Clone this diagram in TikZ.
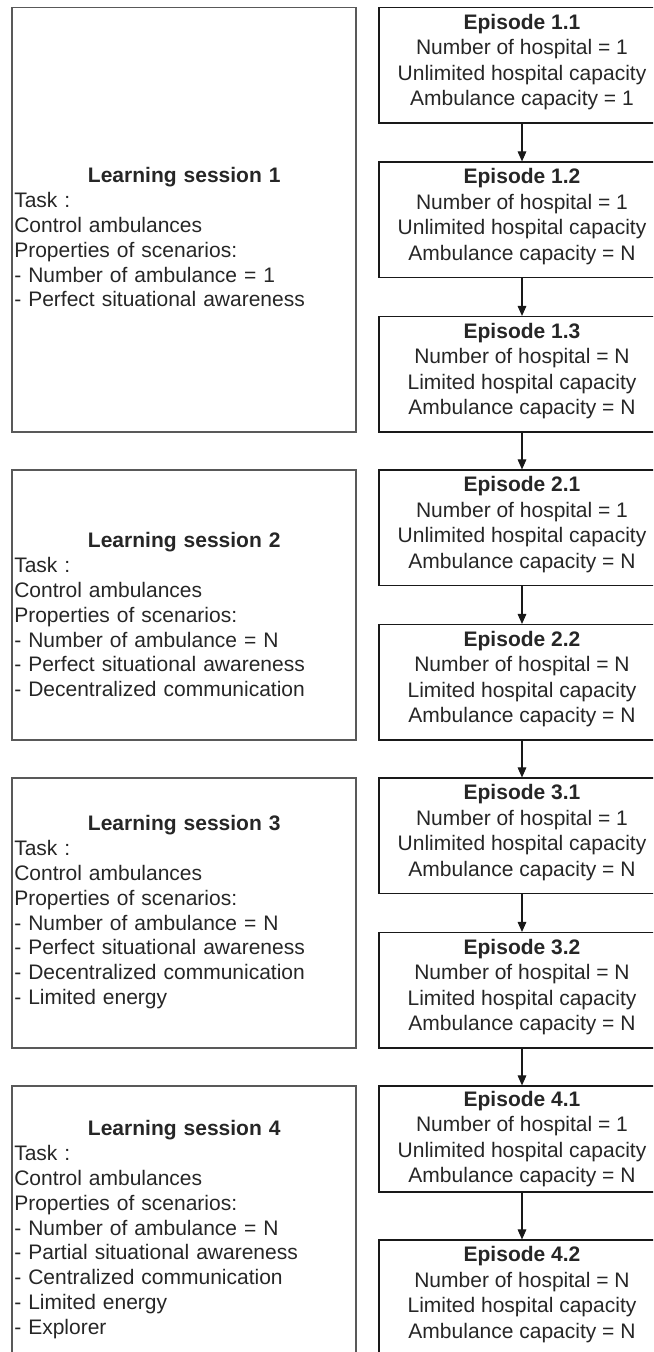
\documentclass[tikz,border=0pt]{standalone}
\usepackage{fontspec}
\setmainfont{Liberation Sans}
\usetikzlibrary{arrows.meta}
\newcommand{\sesshead}[1]{{\centering\bfseries #1\par}}
\begin{document}
\begin{tikzpicture}[x=0.75pt,y=-0.75pt,
	sessbox/.style={draw=black!65,line width=1.4pt,inner sep=0pt,minimum width=258pt},
	epbox/.style={draw=black!90,line width=0.9pt,inner sep=0pt,minimum width=214.5pt,minimum height=86.6pt},
	eptext/.style={align=center,inner sep=0pt,text=black!85,font=\fontsize{15.75}{19.1}\selectfont},
	sesstext/.style={align=left,inner sep=0pt,text width=255pt,anchor=north west,text=black!85,font=\fontsize{15.75}{18.6}\selectfont},
	flow/.style={-{Triangle[length=7.5pt,width=6.5pt]},line width=0.8pt,black!90}]
			\useasboundingbox (0,0) rectangle (653,1352);
			\clip (0,0) rectangle (653,1352);
			% learning sessions
			\node[sessbox,minimum height=318.4pt] (s1) at (184,219.75) {};
			\node[sessbox,minimum height=202.5pt] (s2) at (184,605) {};
			\node[sessbox,minimum height=202.5pt] (s3) at (184,913) {};
			\node[sessbox,minimum height=214.5pt] (s4) at (184,1229) {};
			\node[sesstext] (s1t) at (14,167.5) {\sesshead{Learning session 1}Task :\\Control ambulances\\Properties of scenarios:\\- Number of ambulance = 1\\- Perfect situational awareness};
			\node[sesstext] (s2t) at (14,532.5) {\sesshead{Learning session 2}Task :\\Control ambulances\\Properties of scenarios:\\- Number of ambulance = N\\- Perfect situational awareness\\- Decentralized communication};
			\node[sesstext] (s3t) at (14,815.5) {\sesshead{Learning session 3}Task :\\Control ambulances\\Properties of scenarios:\\- Number of ambulance = N\\- Perfect situational awareness\\- Decentralized communication\\- Limited energy};
			\node[sesstext] (s4t) at (14,1120.5) {\sesshead{Learning session 4}Task :\\Control ambulances\\Properties of scenarios:\\- Number of ambulance = N\\- Partial situational awareness\\- Centralized communication\\- Limited energy\\- Explorer};
			% episodes
			\node[epbox] (e11) at (522,65.25) {};
			\node[epbox] (e12) at (522,219.75) {};
			\node[epbox] (e13) at (522,374.25) {};
			\node[epbox] (e21) at (522,527.75) {};
			\node[epbox] (e22) at (522,682.25) {};
			\node[epbox] (e31) at (522,835.75) {};
			\node[epbox] (e32) at (522,990.25) {};
			\node[epbox,minimum height=79.5pt] (e41) at (522,1139) {};
			\node[epbox] (e42) at (522,1297.75) {};
			\node[eptext] (e11t) at (522,62) {\textbf{Episode 1.1}\\Number of hospital = 1\\Unlimited hospital capacity\\Ambulance capacity = 1};
			\node[eptext] (e12t) at (522,216.5) {\textbf{Episode 1.2}\\Number of hospital = 1\\Unlimited hospital capacity\\Ambulance capacity = N};
			\node[eptext] (e13t) at (522,371) {\textbf{Episode 1.3}\\Number of hospital = N\\Limited hospital capacity\\Ambulance capacity = N};
			\node[eptext] (e21t) at (522,524.5) {\textbf{Episode 2.1}\\Number of hospital = 1\\Unlimited hospital capacity\\Ambulance capacity = N};
			\node[eptext] (e22t) at (522,679) {\textbf{Episode 2.2}\\Number of hospital = N\\Limited hospital capacity\\Ambulance capacity = N};
			\node[eptext] (e31t) at (522,832.5) {\textbf{Episode 3.1}\\Number of hospital = 1\\Unlimited hospital capacity\\Ambulance capacity = N};
			\node[eptext] (e32t) at (522,987) {\textbf{Episode 3.2}\\Number of hospital = N\\Limited hospital capacity\\Ambulance capacity = N};
			\node[eptext] (e41t) at (522,1139) {\textbf{Episode 4.1}\\Number of hospital = 1\\Unlimited hospital capacity\\Ambulance capacity = N};
			\node[eptext] (e42t) at (522,1294.5) {\textbf{Episode 4.2}\\Number of hospital = N\\Limited hospital capacity\\Ambulance capacity = N};
			\draw[flow] (e11.south) -- (e12.north);
			\draw[flow] (e12.south) -- (e13.north);
			\draw[flow] (e13.south) -- (e21.north);
			\draw[flow] (e21.south) -- (e22.north);
			\draw[flow] (e22.south) -- (e31.north);
			\draw[flow] (e31.south) -- (e32.north);
			\draw[flow] (e32.south) -- (e41.north);
			\draw[flow] (e41.south) -- (e42.north);
			\end{tikzpicture}
\end{document}
